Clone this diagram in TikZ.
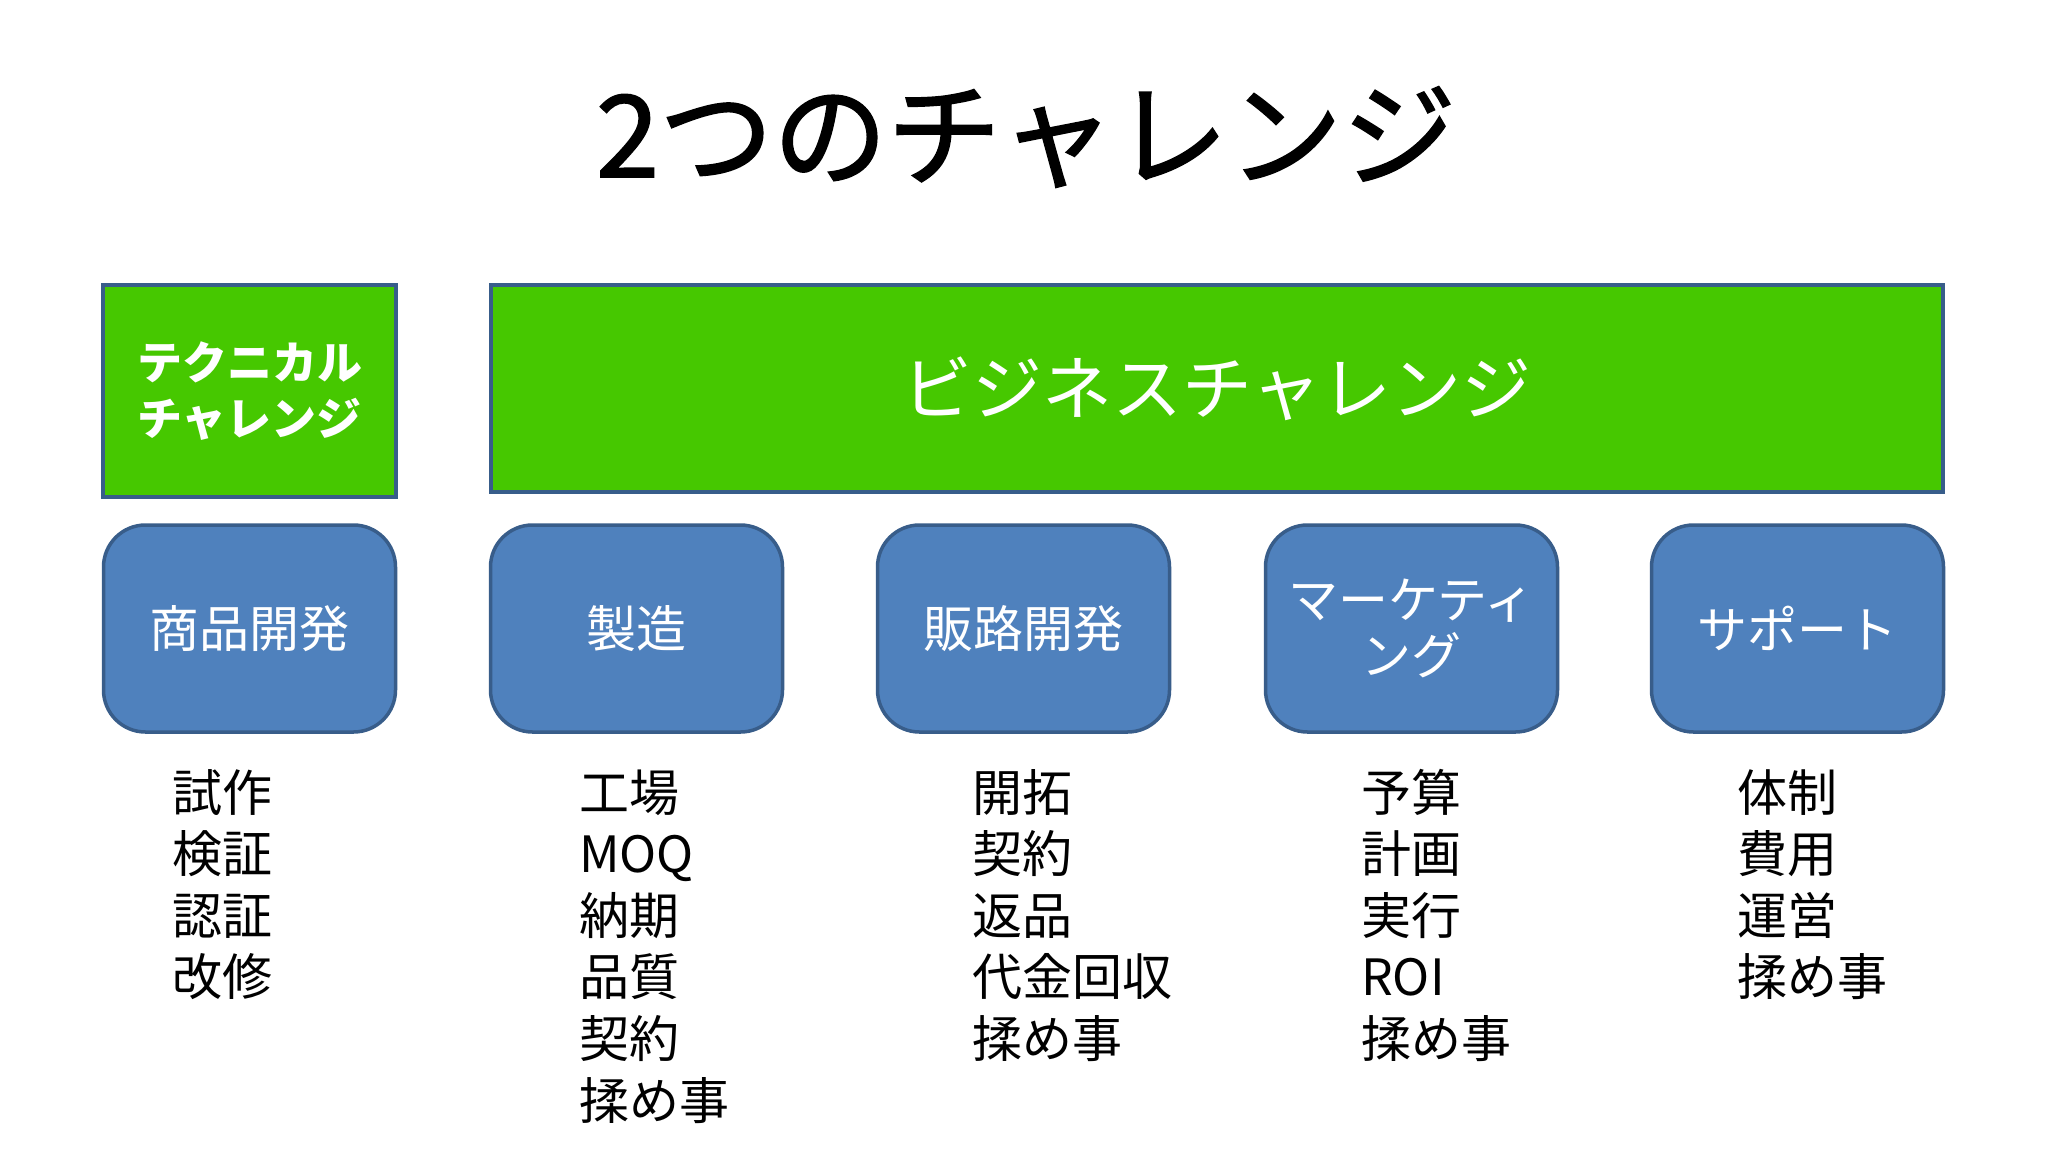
\documentclass[tikz,border=0pt]{standalone}
\usepackage{fontspec}
\setmainfont{Noto Sans CJK JP}
\newfontfamily\jptitle{Noto Sans CJK JP}[FakeBold=1.5]
\definecolor{grn}{RGB}{70,200,0}
\definecolor{blu}{RGB}{79,129,189}
\definecolor{edge}{RGB}{56,93,138}
\begin{document}
\begin{tikzpicture}[x=1pt,y=-1pt,
  greenbox/.style={draw=edge, line width=3.5pt, fill=grn, text=white, align=center, inner sep=0pt},
  bluebox/.style={draw=edge, line width=3.5pt, fill=blu, text=white, align=center, inner sep=0pt, rounded corners=42pt, minimum width=292pt, minimum height=207pt},
  boxtxt/.style={font=\fontsize{50}{56}\selectfont},
  listtxt/.style={font=\fontsize{50}{60}\selectfont, anchor=base west, inner sep=0pt}]
\fill[white] (0,0) rectangle (2048,1152);
\useasboundingbox (0,0) rectangle (2048,1152);
% title
\node[inner sep=0pt, font=\fontsize{114}{120}\jptitle] (title) at (1026,137) {2つのチャレンジ};
% green headers
\node[greenbox, minimum width=293pt, minimum height=212pt] (tech) at (249.5,391) {};
\node[text=white, align=center, inner sep=0pt, font=\fontsize{45}{56}\selectfont\bfseries] (techtxt) at (tech.center) {テクニカル\\チャレンジ};
\node[greenbox, minimum width=1452pt, minimum height=207pt] (biz) at (1217,388.5) {};
\node[text=white, inner sep=0pt, font=\fontsize{70}{80}\selectfont] (biztxt) at (biz.center) {ビジネスチャレンジ};
% blue boxes
\node[bluebox] (b1) at (249.5,628.5) {};
\node[bluebox] (b2) at (636.5,628.5) {};
\node[bluebox] (b3) at (1023.5,628.5) {};
\node[bluebox] (b4) at (1411.5,628.5) {};
\node[bluebox] (b5) at (1797.5,628.5) {};
\node[boxtxt, text=white] (t1) at (b1.center) {商品開発};
\node[boxtxt, text=white] (t2) at (b2.center) {製造};
\node[boxtxt, text=white] (t3) at (b3.center) {販路開発};
\node[boxtxt, text=white, align=center] (t4) at (b4.center) {マーケティ\\ング};
\node[boxtxt, text=white] (t5) at (b5.center) {サポート};
% lists
\foreach \t [count=\i] in {試作,検証,認証,改修}
  \node[listtxt] (c1-\i) at (172,{811+61.6*(\i-1)}) {\t};
\foreach \t [count=\i] in {工場,MOQ,納期,品質,契約,揉め事}
  \node[listtxt] (c2-\i) at (579,{811+61.6*(\i-1)}) {\t};
\foreach \t [count=\i] in {開拓,契約,返品,代金回収,揉め事}
  \node[listtxt] (c3-\i) at (972,{811+61.6*(\i-1)}) {\t};
\foreach \t [count=\i] in {予算,計画,実行,ROI,揉め事}
  \node[listtxt] (c4-\i) at (1361,{811+61.6*(\i-1)}) {\t};
\foreach \t [count=\i] in {体制,費用,運営,揉め事}
  \node[listtxt] (c5-\i) at (1737,{811+61.6*(\i-1)}) {\t};
\end{tikzpicture}
\end{document}
